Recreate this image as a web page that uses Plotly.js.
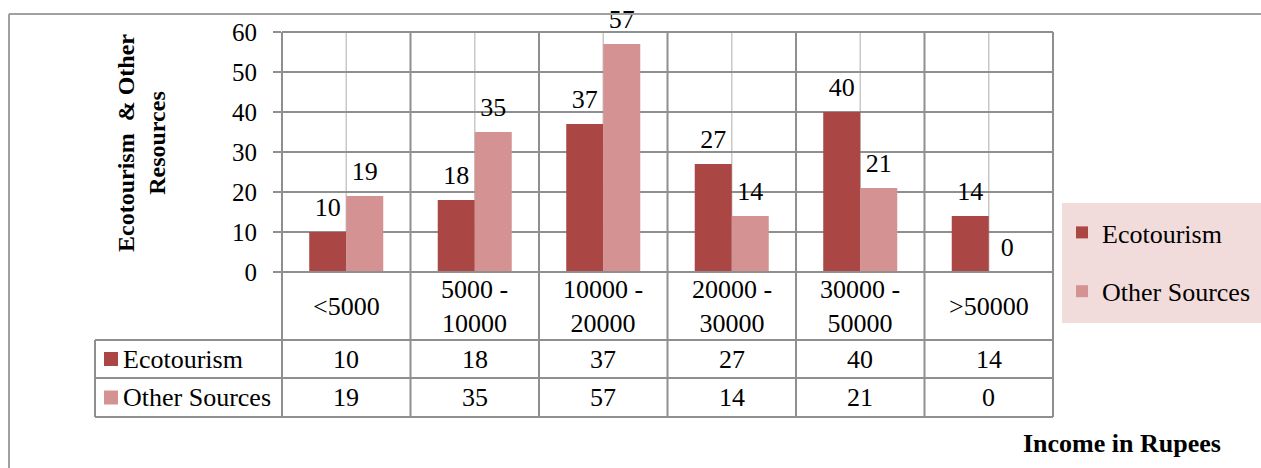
<!DOCTYPE html>
<html>
<head>
<meta charset="utf-8">
<script src="https://cdn.plot.ly/plotly-3.0.1.min.js"></script>
<style>
html,body{margin:0;padding:0;background:#fff;}
#chart{width:1261px;height:468px;}
</style>
</head>
<body>
<div id="chart"></div>
<script>
// ---- data ----
const categories = ["<5000", "5000 -<br>10000", "10000 -<br>20000", "20000 -<br>30000", "30000 -<br>50000", ">50000"];
const categoryLabels = ["&lt;5000", "5000 -<br>10000", "10000 -<br>20000", "20000 -<br>30000", "30000 -<br>50000", "&gt;50000"];
const ecotourism = [10, 18, 37, 27, 40, 14];
const otherSources = [19, 35, 57, 14, 21, 0];
const seriesNames = ["Ecotourism", "Other Sources"];
const seriesColors = ["#AA4643", "#D49392"];
const yTitle = "Ecotourism  & Other<br>Resources";
const xTitle = "Income in Rupees";

// ---- layout geometry (pixels) ----
const W = 1261, H = 468;
const L = 282, R = 1053, T = 32, B = 272;
const PW = R - L, PH = B - T;
const px = v => (v - L) / PW;      // pixel x -> paper x
const py = v => (B - v) / PH;      // pixel y -> paper y
const nCat = categories.length;
const colX = i => i / nCat;        // category boundary in paper x
const FONT = '"Liberation Serif", "Times New Roman", serif';
const FS = 26;
const gridCol = "#8f8f8f";
const lightGrid = "#c8c8c8";

const rowLines = [340, 378, 417];
const tableLeft = 95;
const seriesVals = [ecotourism, otherSources];
const groups = ["a", "b"];

const traces = [];
for (let s = 0; s < 2; s++) {
  traces.push({type: "bar", name: seriesNames[s], x: categories, y: seriesVals[s],
    marker: {color: seriesColors[s]}, offsetgroup: groups[s], alignmentgroup: "g",
    legendgroup: groups[s], hoverinfo: "y+name"});
}
for (let s = 0; s < 2; s++) {
  traces.push({type: "scatter", mode: "markers+text", x: categories, y: seriesVals[s],
    text: seriesVals[s].map(String), textposition: "top center", cliponaxis: false,
    offsetgroup: groups[s], alignmentgroup: "g", showlegend: false,
    marker: {size: 14, opacity: 0, color: seriesColors[s]},
    textfont: {family: FONT, size: FS, color: "#000"}, hoverinfo: "skip"});
}

const shapes = [];
// outer frame
shapes.push({type: "line", xref: "paper", yref: "paper", x0: px(9), x1: px(W + 5), y0: py(14), y1: py(14), line: {color: "#a0a0a0", width: 2}});
shapes.push({type: "line", xref: "paper", yref: "paper", x0: px(9), x1: px(9), y0: py(14), y1: py(H + 5), line: {color: "#a0a0a0", width: 2}});
// legend background
shapes.push({type: "rect", xref: "paper", yref: "paper", x0: px(1062), x1: px(W + 5), y0: py(203), y1: py(323), fillcolor: "#F2DCDB", line: {width: 0}, layer: "below"});
// light vertical lines at category centres
for (let i = 0; i < nCat; i++) {
  shapes.push({type: "line", xref: "paper", yref: "paper", x0: (i + 0.5) / nCat, x1: (i + 0.5) / nCat, y0: 0, y1: 1, line: {color: lightGrid, width: 1.5}, layer: "below"});
}
// category boundaries (through plot and table)
for (let i = 0; i <= nCat; i++) {
  shapes.push({type: "line", xref: "paper", yref: "paper", x0: colX(i), x1: colX(i), y0: py(rowLines[2]), y1: 1, line: {color: gridCol, width: 2}, layer: "above"});
}
// top border and zero line
shapes.push({type: "line", xref: "paper", yref: "paper", x0: 0, x1: 1, y0: 1, y1: 1, line: {color: gridCol, width: 2}});
shapes.push({type: "line", xref: "paper", yref: "paper", x0: 0, x1: 1, y0: 0, y1: 0, line: {color: gridCol, width: 2}});
// table horizontal lines
rowLines.forEach(r => {
  shapes.push({type: "line", xref: "paper", yref: "paper", x0: px(tableLeft), x1: 1, y0: py(r), y1: py(r), line: {color: gridCol, width: 2}});
});
// table left edge
shapes.push({type: "line", xref: "paper", yref: "paper", x0: px(tableLeft), x1: px(tableLeft), y0: py(rowLines[0]), y1: py(rowLines[2]), line: {color: gridCol, width: 2}});
// legend keys in table
const rowCenters = [(rowLines[0] + rowLines[1]) / 2, (rowLines[1] + rowLines[2]) / 2];
for (let s = 0; s < 2; s++) {
  const c = rowCenters[s];
  shapes.push({type: "rect", xref: "paper", yref: "paper", x0: px(104), x1: px(118), y0: py(c - 7), y1: py(c + 7), fillcolor: seriesColors[s], line: {width: 0}});
}

const annotations = [];
const catRowCenter = (B + rowLines[0]) / 2;
for (let i = 0; i < nCat; i++) {
  annotations.push({xref: "paper", yref: "paper", x: (i + 0.5) / nCat, y: py(catRowCenter), text: categoryLabels[i], showarrow: false, xanchor: "center", yanchor: "middle", font: {family: FONT, size: FS, color: "#000"}});
  for (let s = 0; s < 2; s++) {
    annotations.push({xref: "paper", yref: "paper", x: (i + 0.5) / nCat, y: py(rowCenters[s]), text: String(seriesVals[s][i]), showarrow: false, xanchor: "center", yanchor: "middle", font: {family: FONT, size: FS, color: "#000"}});
  }
}
for (let s = 0; s < 2; s++) {
  annotations.push({xref: "paper", yref: "paper", x: px(121), y: py(rowCenters[s]), text: seriesNames[s], showarrow: false, xanchor: "left", yanchor: "middle", font: {family: FONT, size: FS, color: "#000"}});
}
annotations.push({xref: "paper", yref: "paper", x: px(141), y: py(143), text: "<b>" + yTitle + "</b>", textangle: -90, showarrow: false, xanchor: "center", yanchor: "middle", font: {family: FONT, size: 24, color: "#000"}});
annotations.push({xref: "paper", yref: "paper", x: px(1122), y: py(443), text: "<b>" + xTitle + "</b>", showarrow: false, xanchor: "center", yanchor: "middle", font: {family: FONT, size: FS, color: "#000"}});

const layout = {
  width: W, height: H,
  margin: {l: L, r: W - R, t: T, b: H - B, pad: 0, autoexpand: false},
  paper_bgcolor: "#fff", plot_bgcolor: "#fff",
  barmode: "group", scattermode: "group", bargap: 0.424, bargroupgap: 0,
  font: {family: FONT, size: FS, color: "#000"},
  xaxis: {showticklabels: false, showgrid: false, zeroline: false, showline: false, ticks: "", fixedrange: true, automargin: false},
  yaxis: {range: [0, 60], dtick: 10, showgrid: true, gridcolor: gridCol, gridwidth: 1.5,
          zeroline: false, showline: false, ticks: "outside", ticklen: 8, tickcolor: gridCol, tickwidth: 2,
          ticklabelstandoff: 11, tickfont: {family: FONT, size: 25, color: "#000"}, fixedrange: true, automargin: false},
  showlegend: true,
  legend: {x: px(1062), xanchor: "left", y: py(209), yanchor: "top", bgcolor: "rgba(0,0,0,0)",
           font: {family: FONT, size: FS, color: "#000"}, traceorder: "grouped", tracegroupgap: 22,
           borderwidth: 0, itemwidth: 30},
  shapes: shapes,
  annotations: annotations
};

Plotly.newPlot("chart", traces, layout, {displayModeBar: false, staticPlot: true});
</script>
</body>
</html>
